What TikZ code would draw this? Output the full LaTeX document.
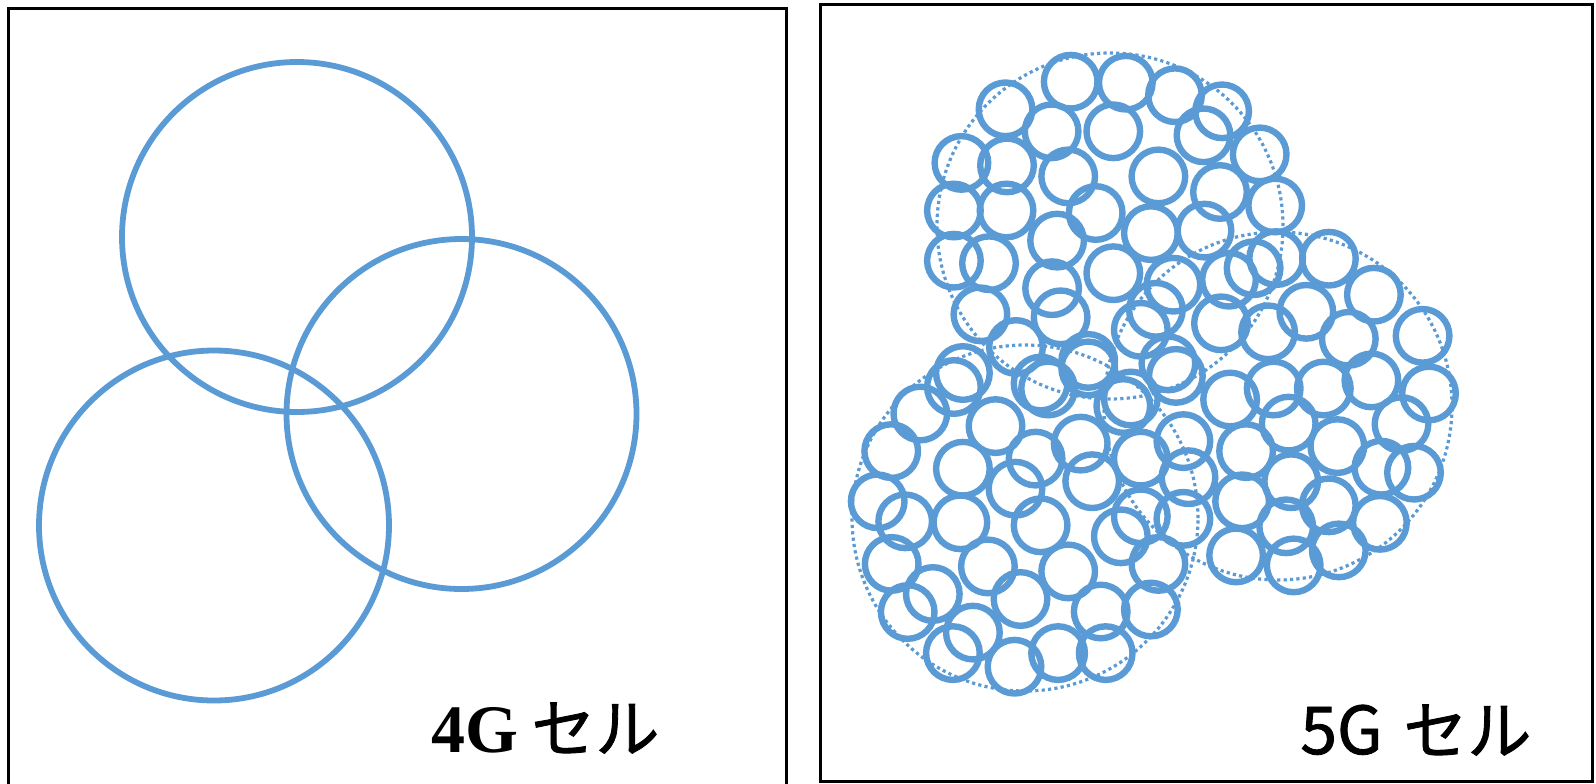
\documentclass[tikz,border=0pt]{standalone}
\usepackage{fontspec}
\newfontfamily\cjk[FakeBold=1.3]{Noto Sans CJK JP}
\newfontfamily\latserif{Liberation Serif}
\definecolor{cellblue}{HTML}{5B9BD5}
\tikzset{
  frame/.style={draw=black, line width=1.5pt},
  bigcell/.style={draw=cellblue, line width=2.9pt},
  smallcell/.style={draw=cellblue, line width=3.2pt},
  area/.style={draw=cellblue, line width=1.6pt, dash pattern=on 1.6pt off 1.6pt},
  lbl/.style={anchor=base west, inner sep=0pt, text=black}
}
\begin{document}
\begin{tikzpicture}[x=0.5pt,y=-0.5pt]
\useasboundingbox (0,0) rectangle (1596,783);
% frames
\draw[frame] (8,8) rectangle (786,800);
\draw[frame] (820,4) rectangle (1592,781);
% 4G cells
\draw[bigcell] (297,237) circle[radius=87.5pt];
\draw[bigcell] (461.5,414) circle[radius=87.5pt];
\draw[bigcell] (214,525.5) circle[radius=87.5pt];
% 5G macro areas (dotted)
\draw[area] (1110,226) circle[radius=86.5pt];
\draw[area] (1278,406) circle[radius=87pt];
\draw[area] (1025,518) circle[radius=86.5pt];
% 5G small cells
\foreach \cx/\cy in {
1070.7/81.7, 1125.8/82.7, 1175.0/95.2, 1222.1/111.3, 1005.5/109.3,
1051.6/131.3, 1113.3/131.3, 1203.5/135.3, 1259.7/154.4, 961.4/162.9,
1007.0/165.4, 1068.2/176.4, 1158.4/176.4, 1220.0/192.0, 1275.2/205.5,
953.9/210.5, 1006.5/210.5, 1095.7/213.0, 1057.1/240.6, 1150.9/233.1,
1204.5/230.6, 953.9/260.7, 989.0/263.2, 1276.2/258.1, 1253.6/268.2,
1113.3/273.2, 1052.1/288.2, 1173.4/284.7, 1229.0/279.7, 1328.9/258.7,
1373.9/294.7, 980.4/314.3, 1060.6/317.3, 1155.9/309.8, 1140.8/329.8,
1221.0/323.3, 1306.3/311.8, 1348.8/338.8, 1422.6/335.8, 1016.0/347.0,
1268.1/332.3, 962.9/373.0, 953.9/387.0, 1088.2/360.9, 1088.2/368.4,
1040.6/383.5, 1048.1/388.5, 1168.4/363.4, 1175.9/375.9, 1130.8/398.5,
1123.3/406.0, 1230.1/399.5, 1273.7/388.5, 1323.8/388.5, 1371.4/380.4,
1429.0/393.5, 920.3/413.5, 995.5/426.1, 1080.7/443.6, 1035.6/458.6,
1183.4/441.1, 1140.8/458.6, 1288.7/423.6, 1337.3/446.1, 1401.5/424.1,
891.2/451.1, 962.9/468.7, 1188.5/477.2, 1246.1/451.1, 1381.4/467.7,
1414.0/472.7, 1015.5/488.7, 1092.2/481.2, 877.7/501.3, 1291.2/481.2,
1328.8/505.3, 1242.1/501.3, 905.2/521.3, 960.4/522.3, 1040.6/525.3,
1183.4/518.8, 1140.8/516.3, 1120.8/536.3, 1379.9/522.8, 1286.2/526.3,
891.7/563.9, 987.9/566.4, 1068.2/571.4, 1158.4/563.9, 1236.1/555.4,
1293.7/565.4, 1338.8/550.4, 932.8/594.0, 1020.5/599.0, 907.7/612.0,
1100.7/611.5, 1150.9/609.5, 972.9/632.6, 952.9/653.1, 1058.1/653.1,
1105.7/653.1, 1014.5/666.7}
  {\draw[smallcell] (\cx,\cy) circle[radius=13.4pt];}
% labels
\node[lbl, font=\latserif\bfseries\fontsize{34}{40}\selectfont] (t4a) at (431,752) {4G};
\node[lbl, font=\cjk\fontsize{32}{38}\selectfont] (t4b) at (531,752) {セル};
\node[lbl, font=\cjk\fontsize{33}{38}\selectfont] (t5a) at (1300,754) {5G};
\node[lbl, font=\cjk\fontsize{32}{38}\selectfont] (t5b) at (1403,754) {セル};
\end{tikzpicture}
\end{document}
